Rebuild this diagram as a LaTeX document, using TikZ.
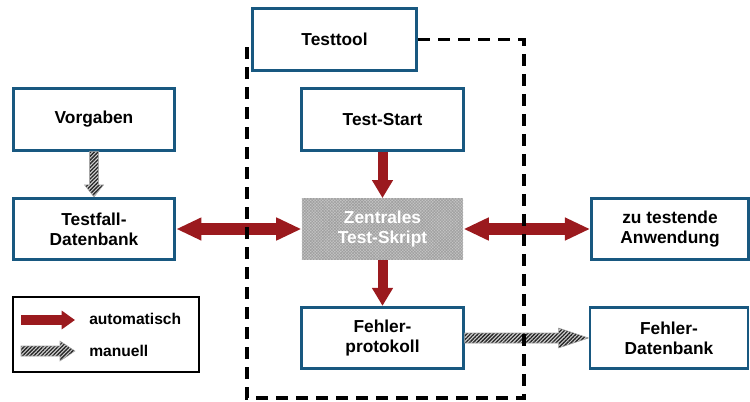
\documentclass[tikz,border=0pt]{standalone}
\usepackage{fontspec}
\setmainfont{Liberation Sans}
\usetikzlibrary{arrows.meta, calc, patterns.meta}
\definecolor{boxblue}{RGB}{24,88,128}
\definecolor{autored}{RGB}{155,26,30}

\tikzset{
	kasten/.style={draw=boxblue, line width=2.2pt, fill=white, minimum width=121pt,
		minimum height=46pt, align=center, inner sep=2pt,
		font=\fontsize{13}{15}\selectfont\bfseries},
	skriptbox/.style={kasten, draw=none, text=white, preaction={fill=gray!45},
		pattern={Hatch[angle=45,distance=1.6pt,line width=0.45pt]}, pattern color=gray!75},
	autoarrow/.style={draw=autored, line width=7.5pt, -{Triangle[length=13.5pt,width=15pt]}},
	autodouble/.style={draw=autored, line width=9pt,
		{Triangle[length=19pt,width=16pt]}-{Triangle[length=19pt,width=16pt]}},
	manuell/.style={draw=gray!70, line width=0.4pt, preaction={fill=gray!35},
		pattern={Lines[angle=45,distance=2pt,line width=1pt]}, pattern color=black!85},
	rahmen/.style={draw=black, line width=2.4pt, dash pattern=on 9pt off 6pt},
	legtext/.style={anchor=west, inner sep=0pt, font=\fontsize{11.7}{14}\selectfont\bfseries}
}

% hatched arrow, left to right: start, tip, head length
\newcommand{\handpfeil}[3]{%
	\filldraw[manuell] ($(#1)+(0,-5)$) -- ($(#2)+(-#3,-5)$) -- ($(#2)+(-#3,-10)$) -- (#2)
		-- ($(#2)+(-#3,10)$) -- ($(#2)+(-#3,5)$) -- ($(#1)+(0,5)$) -- cycle;}

\begin{document}
\begin{tikzpicture}[x=0.75pt, y=-0.75pt]
	\useasboundingbox (0,0) rectangle (750,401);

	% boxes
	\node[kasten, minimum width=123.5pt] (testtool) at (334.5,39.5) {Testtool};
	\node[kasten] (vorg) at (94,119.5) {Vorgaben};
	\node[kasten] (start) at (382.5,119.5) {Test-Start};
	\node[kasten] (tfdb) at (94,229) {Testfall-\\Datenbank};
	\node[skriptbox] (skript) at (382.5,229) {Zentrales\\Test-Skript};
	\node[kasten, minimum width=117.5pt] (anw) at (670,229) {zu testende\\Anwendung};
	\node[kasten] (fprot) at (382.5,338) {Fehler-\\protokoll};
	\node[kasten, minimum width=118.5pt] (fdb) at (669,338) {Fehler-\\Datenbank};

	% connectors
	\filldraw[manuell] ($(vorg.south)+(-4.5,0)$) -- ($(tfdb.north)+(-4.5,-12)$)
		-- ($(tfdb.north)+(-9.5,-12)$) -- (tfdb.north) -- ($(tfdb.north)+(9.5,-12)$)
		-- ($(tfdb.north)+(4.5,-12)$) -- ($(vorg.south)+(4.5,0)$) -- cycle;
	\draw[autoarrow] (start) -- (skript);
	\draw[autoarrow] (skript) -- (fprot);
	\draw[autodouble] (tfdb) -- (skript);
	\draw[autodouble] (skript) -- (anw);
	\handpfeil{fprot.east}{fdb.west}{30}

	% frame of the test tool
	\draw[rahmen] (testtool.east) -- (524,39.5) -- (524,398) -- (247,398) -- (247,39.5);

	% legend
	\node[draw=black, line width=1.5pt, minimum width=139.5pt, minimum height=56pt,
		inner sep=0pt] (legende) at (106,334.5) {};
	\coordinate (la1) at (21,320);
	\coordinate (la2) at (75,320);
	\coordinate (lm1) at (21,351);
	\coordinate (lm2) at (75,351);
	\draw[draw=autored, line width=7.5pt, -{Triangle[length=10pt,width=13.5pt]}] (la1) -- (la2);
	\handpfeil{lm1}{lm2}{15}
	\node[legtext] (lauto) at (89,318.5) {automatisch};
	\node[legtext] (lman) at (89,350.5) {manuell};
\end{tikzpicture}
\end{document}
